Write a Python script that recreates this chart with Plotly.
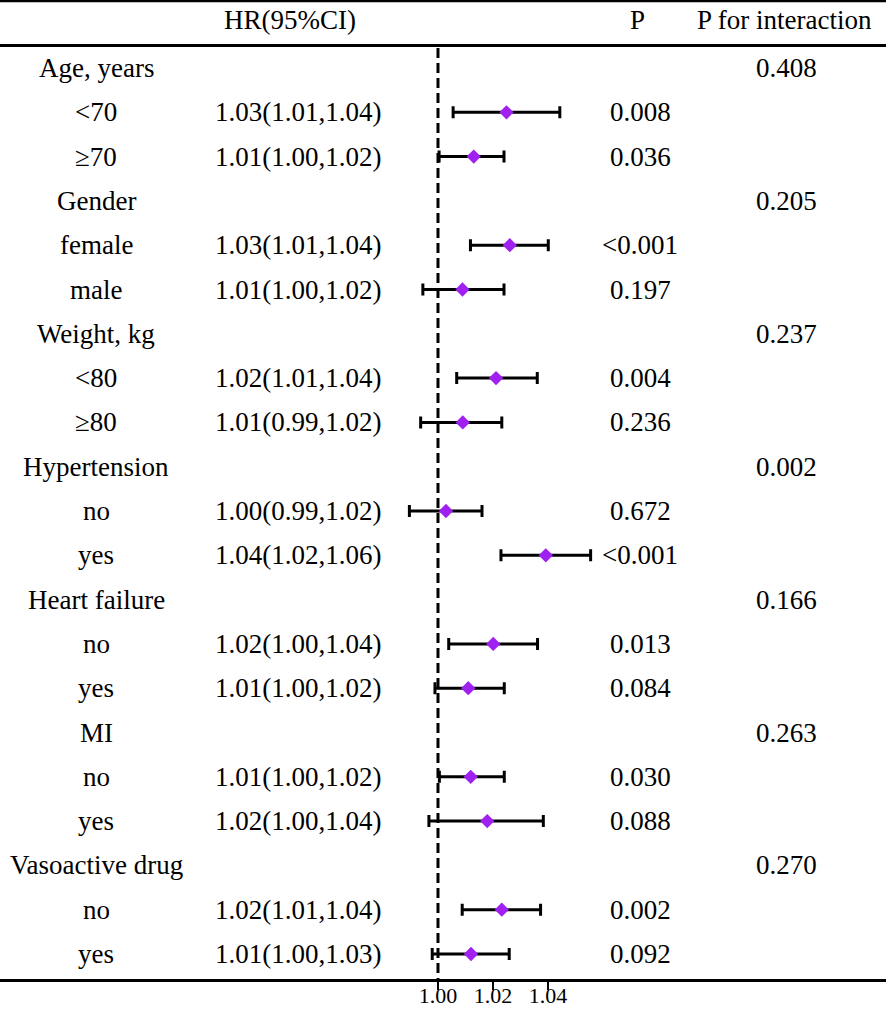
import plotly.graph_objects as go

# ---------------- data ----------------
labels = ["Age, years", "<70", "≥70", "Gender", "female", "male", "Weight, kg", "<80", "≥80",
          "Hypertension", "no", "yes", "Heart failure", "no", "yes", "MI", "no", "yes",
          "Vasoactive drug", "no", "yes"]
hr_text = ["", "1.03(1.01,1.04)", "1.01(1.00,1.02)", "", "1.03(1.01,1.04)", "1.01(1.00,1.02)",
           "", "1.02(1.01,1.04)", "1.01(0.99,1.02)", "", "1.00(0.99,1.02)", "1.04(1.02,1.06)",
           "", "1.02(1.00,1.04)", "1.01(1.00,1.02)", "", "1.01(1.00,1.02)", "1.02(1.00,1.04)",
           "", "1.02(1.01,1.04)", "1.01(1.00,1.03)"]
p_text = ["", "0.008", "0.036", "", "<0.001", "0.197", "", "0.004", "0.236", "", "0.672", "<0.001",
          "", "0.013", "0.084", "", "0.030", "0.088", "", "0.002", "0.092"]
p_int = ["0.408", "", "", "0.205", "", "", "0.237", "", "", "0.002", "", "", "0.166", "", "",
         "0.263", "", "", "0.270", "", ""]
headers = ["HR(95%CI)", "P", "P for interaction"]

sub_rows = [1, 2, 4, 5, 7, 8, 10, 11, 13, 14, 16, 17, 19, 20]
est = [1.0249, 1.0130, 1.0261, 1.0089, 1.0211, 1.0090, 1.0029, 1.0392, 1.0201, 1.0110,
       1.0119, 1.0179, 1.0232, 1.0120]
lo = [1.0055, 1.0004, 1.0118, 0.9945, 1.0068, 0.9937, 0.9896, 1.0229, 1.0039, 0.9989,
      1.0005, 0.9967, 1.0088, 0.9979]
hi = [1.0443, 1.0240, 1.0401, 1.0240, 1.0361, 1.0232, 1.0160, 1.0555, 1.0362, 1.0241,
      1.0241, 1.0383, 1.0373, 1.0259]
tick_vals = [1.00, 1.02, 1.04]
tick_text = ["1.00", "1.02", "1.04"]

# ---------------- layout constants ----------------
W, H = 886, 1009
FONT = "Liberation Serif"
FS = 27
x_min, x_max = 0.84073, 1.16291
y_top, y_bot = -1.535, 20.564

fig = go.Figure()
fig.add_trace(go.Scatter(
    x=est, y=sub_rows, mode="markers",
    marker=dict(symbol="diamond", size=11, color="#A020F0", line=dict(width=0)),
    error_x=dict(type="data", symmetric=False,
                 array=[h - e for h, e in zip(hi, est)],
                 arrayminus=[e - l for e, l in zip(est, lo)],
                 color="black", thickness=3, width=6),
    showlegend=False, hoverinfo="skip",
))

ann = []
def txt(x_px, y, s):
    ann.append(dict(x=x_px / W, xref="paper", y=y, yref="y", text=s, showarrow=False,
                    xanchor="center", yanchor="middle",
                    font=dict(family=FONT, size=FS, color="black")))

header_y = -1.083
txt(290, header_y, headers[0])
txt(637, header_y, headers[1])
txt(784, header_y, headers[2])
for i in range(len(labels)):
    txt(96, i, labels[i])
    if hr_text[i]:
        txt(298, i, hr_text[i])
    if p_text[i]:
        txt(640, i, p_text[i])
    if p_int[i]:
        txt(786, i, p_int[i])

shapes = [
    dict(type="line", xref="paper", yref="y", x0=0, x1=1, y0=-1.512, y1=-1.512,
         line=dict(color="black", width=2.5)),
    dict(type="line", xref="paper", yref="y", x0=0, x1=1, y0=-0.508, y1=-0.508,
         line=dict(color="black", width=3)),
    dict(type="line", xref="x", yref="y", x0=1.0, x1=1.0, y0=-0.45, y1=y_bot,
         line=dict(color="black", width=3, dash="10px,5px")),
]

fig.update_layout(
    width=W, height=H,
    margin=dict(l=0, r=0, t=0, b=30, autoexpand=False),
    paper_bgcolor="white", plot_bgcolor="white",
    annotations=ann, shapes=shapes,
    xaxis=dict(range=[x_min, x_max], tickvals=tick_vals, ticktext=tick_text,
               automargin=False, ticklabelstandoff=-13,
               showgrid=False, zeroline=False, showline=True, linecolor="black", linewidth=3,
               ticks="outside", ticklen=8, tickwidth=2, tickcolor="black",
               tickfont=dict(family=FONT, size=22, color="black")),
    yaxis=dict(range=[y_bot, y_top], visible=False, showgrid=False, zeroline=False,
               automargin=False),
)

fig.write_html("out.html", config={"displayModeBar": False},
               post_script="document.body.style.margin='0px';document.body.style.overflow='hidden';")
